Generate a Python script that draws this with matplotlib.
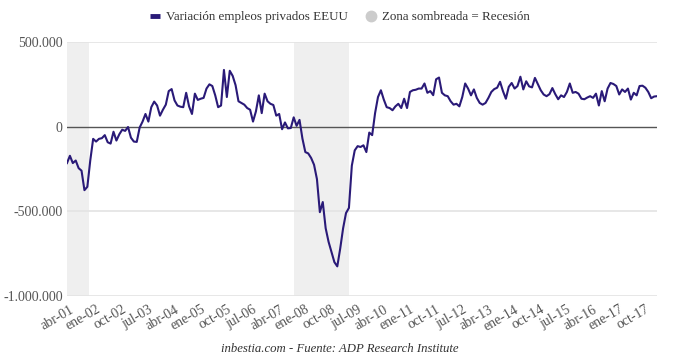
import matplotlib
matplotlib.use("Agg")
import matplotlib.pyplot as plt
from matplotlib.lines import Line2D
from matplotlib.ticker import FuncFormatter, FixedLocator

# Monthly change in US private employment (ADP), Mar 2001 .. Feb 2018, in thousands
values_k = [
    -215, -172, -215, -200, -245, -260, -375, -355, -200, -72,
    -88, -72, -68, -50, -92, -100, -30, -82, -45, -18,
    -25, -2, -65, -88, -90, -5, 30, 75, 30, 115,
    148, 125, 65, 100, 130, 210, 222, 155, 125, 118,
    115, 200, 120, 75, 195, 158, 165, 170, 225, 250,
    240, 185, 115, 125, 335, 175, 330, 300, 245, 150,
    140, 130, 110, 100, 30, 90, 185, 80, 195, 150,
    135, 128, 65, 75, -15, 25, -10, -8, 55, 5,
    40, -70, -150, -158, -185, -225, -310, -505, -445, -600,
    -680, -740, -800, -825, -720, -600, -510, -480, -230, -140,
    -115, -120, -110, -150, -35, -50, 80, 175, 215, 160,
    115, 110, 97, 120, 135, 110, 165, 110, 205, 215,
    218, 225, 225, 255, 200, 210, 186, 280, 290, 200,
    185, 180, 150, 130, 135, 120, 175, 255, 225, 185,
    220, 170, 140, 130, 140, 170, 205, 222, 230, 265,
    210, 165, 235, 258, 225, 240, 295, 220, 268, 238,
    232, 288, 252, 215, 190, 180, 192, 228, 192, 162,
    185, 175, 205, 255, 200, 205, 195, 165, 162, 172,
    180, 170, 195, 125, 210, 150, 225, 258, 252, 240,
    190, 220, 205, 225, 160, 200, 185, 240, 242, 230,
    205, 168, 178, 180,
]
values = [v * 1000 for v in values_k]

start_year, start_month = 2001, 3
month_names = ["ene", "feb", "mar", "abr", "may", "jun",
               "jul", "ago", "sep", "oct", "nov", "dic"]
categories = []
for i in range(len(values)):
    m = start_month - 1 + i
    categories.append(f"{month_names[m % 12]}-{(start_year + m // 12) % 100:02d}")

recessions = [(-0.5, 7.6), (78.1, 97.0)]  # shaded bands (category index)
label_step = 9
label_first = 1  # abr-01

series_name = "Variación empleos privados EEUU"
shade_name = "Zona sombreada = Recesión"
footer = "inbestia.com - Fuente: ADP Research Institute"

line_color = "#2a1a78"
text_color = "#555555"
font = ["Liberation Serif", "DejaVu Serif"]
plt.rcParams["font.family"] = font

fig = plt.figure(figsize=(6.8, 3.63), dpi=100)
ax = fig.add_axes([67 / 680, 1 - 296 / 363, 590 / 680, 254 / 363])

x = list(range(len(values)))
for a, b in recessions:
    ax.axvspan(max(a, 0), b, color="#efefef", lw=0, zorder=0)

for yv in [500000, -500000, -1000000]:
    ax.axhline(yv, color="#e3e3e3", lw=1.2, zorder=1)
ax.axhline(0, color="#555555", lw=1.0, zorder=2)

ax.plot(x, values, color=line_color, lw=1.5, zorder=3, solid_joinstyle="round")

ax.set_xlim(0, len(values) - 1)
ax.set_ylim(-1000000, 500000)
ax.set_yticks([500000, 0, -500000, -1000000])
ax.yaxis.set_major_formatter(FuncFormatter(lambda v, p: f"{int(v):,}".replace(",", ".")))

ticks = list(range(label_first, len(values), label_step))
ax.xaxis.set_major_locator(FixedLocator(ticks))
ax.set_xticklabels([categories[t] for t in ticks], rotation=30, ha="right",
                   rotation_mode="anchor")

for s in ax.spines.values():
    s.set_visible(False)
ax.tick_params(axis="x", length=0, pad=5, labelsize=10, labelcolor=text_color)
ax.tick_params(axis="y", length=0, pad=3, labelsize=10, labelcolor=text_color)

handles = [
    Line2D([], [], color=line_color, lw=3.5, solid_capstyle="butt"),
    Line2D([], [], marker="o", color="#cccccc", lw=0, markersize=7.5),
]
fig.legend(handles, [series_name, shade_name], loc="center", ncol=2,
           bbox_to_anchor=(0.5, 1 - 17 / 363), frameon=False, fontsize=9.4,
           handlelength=0.7, handletextpad=0.5, columnspacing=1.4,
           labelcolor="#333333")

fig.text(0.5, 1 - 349 / 363, footer, ha="center", va="center",
         fontsize=9.2, style="italic", color="#333333")

fig.savefig("out.png", dpi=100)
